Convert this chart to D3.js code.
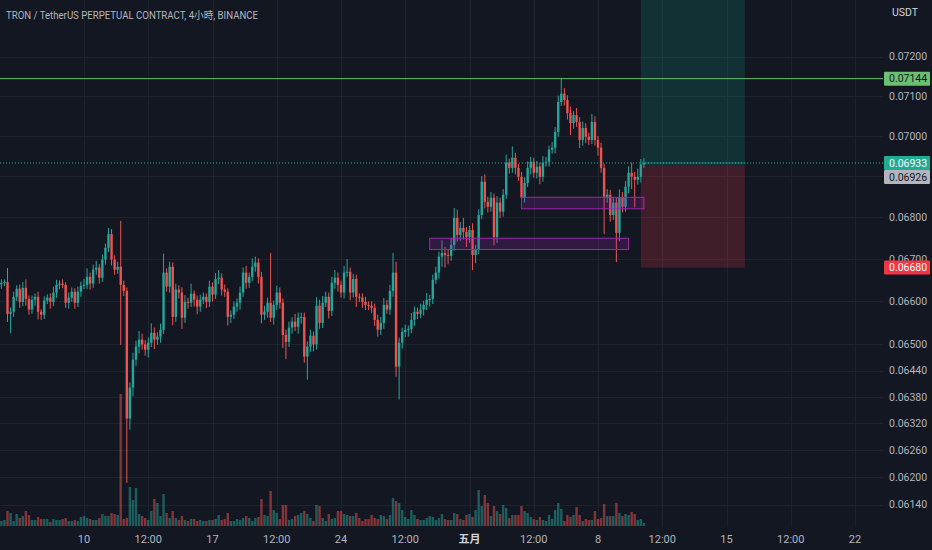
<!DOCTYPE html>
<html>
<head>
<meta charset="utf-8">
<script src="https://cdn.jsdelivr.net/npm/d3@7"></script>
<style>
html, body { margin: 0; padding: 0; background: #131722; overflow: hidden; }
svg { display: block; }
text { font-family: Roboto, "Noto Sans CJK SC", sans-serif; }
</style>
</head>
<body>
<svg width="932" height="550"></svg>
<script>
// 4h bars, first bar Apr 5 12:00 UTC; prices in units of 0.00001 USDT
const firstBar = Date.UTC(2023, 3, 5, 12);
const barMs = 4 * 3600 * 1000;
const firstOpenE5 = 6640;

const closeE5 = [
  6644, 6646, 6571, 6576, 6611, 6630, 6599, 6632, 6606, 6581,
  6604, 6611, 6576, 6569, 6602, 6609, 6599, 6621, 6639, 6642,
  6639, 6597, 6609, 6623, 6597, 6623, 6637, 6639, 6658, 6642,
  6675, 6680, 6656, 6699, 6727, 6760, 6699, 6675, 6682, 6639,
  6625, 6331, 6401, 6465, 6495, 6511, 6500, 6488, 6504, 6527,
  6511, 6518, 6534, 6668, 6635, 6682, 6564, 6628, 6621, 6562,
  6599, 6597, 6618, 6604, 6588, 6604, 6611, 6599, 6635, 6616,
  6653, 6656, 6628, 6623, 6564, 6569, 6588, 6597, 6621, 6668,
  6644, 6658, 6682, 6692, 6658, 6569, 6576, 6597, 6562, 6592,
  6621, 6597, 6522, 6506, 6539, 6553, 6541, 6562, 6564, 6472,
  6495, 6520, 6500, 6590, 6550, 6597, 6611, 6578, 6644, 6656,
  6639, 6621, 6668, 6670, 6621, 6653, 6611, 6609, 6599, 6592,
  6590, 6585, 6557, 6534, 6550, 6592, 6581, 6625, 6668, 6449,
  6504, 6529, 6534, 6536, 6557, 6576, 6571, 6581, 6592, 6604,
  6606, 6651, 6668, 6706, 6715, 6710, 6708, 6734, 6799, 6758,
  6775, 6765, 6753, 6770, 6710, 6724, 6806, 6887, 6838, 6826,
  6848, 6753, 6836, 6814, 6855, 6934, 6921, 6946, 6921, 6899,
  6848, 6884, 6921, 6936, 6909, 6924, 6899, 6934, 6936, 6966,
  6971, 7010, 7085, 7106, 7090, 7057, 7032, 7052, 7035, 6990,
  7020, 6998, 6990, 7035, 6990, 6971, 6921, 6850, 6855, 6806,
  6836, 6763, 6850, 6826, 6875, 6909, 6899, 6892, 6899, 6929,
  6933
];

const wickUpE5 = [
  8, 6, 33, 10, 12, 8, 10, 14, 20, 8,
  10, 8, 12, 6, 10, 8, 10, 14, 12, 8,
  10, 6, 12, 10, 8, 12, 10, 14, 20, 10,
  12, 16, 8, 12, 10, 15, 12, 10, 12, 110,
  10, 8, 12, 16, 14, 20, 14, 10, 12, 22,
  12, 10, 14, 45, 10, 12, 10, 14, 10, 12,
  16, 10, 24, 8, 10, 12, 10, 8, 14, 10,
  14, 18, 10, 12, 8, 10, 12, 10, 14, 12,
  16, 10, 20, 14, 10, 12, 14, 12, 118, 10,
  16, 12, 10, 12, 14, 10, 18, 12, 10, 10,
  12, 14, 10, 20, 14, 16, 12, 10, 14, 18,
  12, 10, 16, 30, 10, 12, 10, 8, 10, 12,
  8, 10, 10, 12, 14, 16, 12, 14, 47, 26,
  12, 10, 12, 8, 16, 12, 10, 14, 10, 16,
  10, 12, 14, 12, 30, 14, 12, 16, 24, 20,
  14, 24, 12, 10, 16, 10, 14, 14, 18, 12,
  14, 10, 16, 12, 14, 20, 10, 28, 12, 10,
  12, 14, 16, 12, 10, 14, 10, 16, 12, 10,
  14, 12, 16, 38, 14, 12, 16, 10, 18, 12,
  16, 12, 10, 20, 14, 10, 12, 10, 14, 12,
  14, 12, 18, 12, 14, 16, 25, 12, 20, 14,
  12
];

const wickDnE5 = [
  10, 8, 19, 45, 12, 10, 14, 10, 16, 12,
  10, 14, 18, 12, 10, 8, 16, 10, 12, 10,
  8, 12, 14, 10, 14, 10, 12, 8, 10, 14,
  10, 12, 14, 10, 12, 10, 14, 12, 10, 140,
  12, 143, 25, 20, 14, 16, 12, 14, 18, 10,
  22, 12, 14, 10, 12, 14, 20, 12, 14, 26,
  12, 14, 10, 16, 18, 12, 10, 14, 12, 16,
  10, 12, 14, 12, 20, 14, 10, 12, 16, 10,
  14, 12, 10, 12, 16, 20, 12, 14, 10, 16,
  12, 14, 30, 40, 12, 14, 10, 16, 14, 14,
  53, 12, 16, 12, 14, 12, 10, 18, 12, 14,
  16, 12, 14, 10, 18, 12, 24, 10, 14, 12,
  10, 12, 14, 16, 12, 14, 10, 12, 14, 23,
  75, 14, 12, 16, 10, 14, 12, 10, 14, 12,
  16, 12, 10, 14, 24, 30, 20, 12, 14, 16,
  14, 18, 24, 14, 36, 20, 12, 10, 16, 14,
  12, 20, 14, 16, 12, 10, 14, 12, 16, 10,
  14, 12, 10, 16, 12, 14, 18, 12, 10, 12,
  10, 14, 12, 10, 14, 16, 30, 14, 12, 20,
  14, 16, 12, 10, 14, 20, 12, 90, 14, 16,
  12, 70, 20, 14, 12, 16, 30, 68, 12, 14,
  8
];

const volumeM = [
  5, 6, 15, 13, 5, 12, 8, 10, 15, 11,
  6, 6, 9, 7, 7, 7, 4, 7, 6, 6,
  7, 8, 5, 5, 6, 5, 9, 10, 8, 7,
  6, 6, 8, 12, 10, 10, 13, 12, 11, 132,
  7, 8, 39, 26, 38, 12, 10, 8, 6, 15,
  27, 23, 10, 32, 13, 8, 15, 8, 6, 10,
  6, 5, 7, 7, 5, 6, 5, 5, 6, 6,
  7, 11, 6, 7, 13, 5, 5, 7, 6, 8,
  10, 8, 5, 8, 9, 27, 11, 10, 35, 16,
  13, 7, 21, 21, 6, 7, 10, 11, 13, 15,
  12, 8, 5, 21, 20, 8, 5, 12, 7, 8,
  15, 15, 12, 11, 10, 10, 13, 8, 5, 7,
  7, 11, 8, 7, 11, 10, 7, 11, 28, 25,
  23, 16, 9, 7, 16, 11, 7, 6, 6, 8,
  10, 9, 6, 8, 12, 7, 6, 6, 13, 12,
  7, 6, 11, 12, 9, 16, 36, 20, 31, 23,
  10, 20, 15, 12, 21, 18, 8, 11, 11, 11,
  20, 15, 13, 9, 7, 6, 9, 6, 5, 11,
  7, 16, 23, 17, 5, 11, 9, 11, 19, 11,
  5, 7, 6, 6, 15, 7, 8, 22, 10, 10,
  10, 23, 13, 10, 12, 11, 14, 12, 6, 7,
  3
];

const priceTicks = [0.072, 0.071, 0.070, 0.069, 0.068, 0.067, 0.066, 0.065,
  0.0644, 0.0638, 0.0632, 0.0626, 0.0620, 0.0614];

const timeTicks = [
  Date.UTC(2023, 3, 10), Date.UTC(2023, 3, 13, 12), Date.UTC(2023, 3, 17),
  Date.UTC(2023, 3, 20, 12), Date.UTC(2023, 3, 24), Date.UTC(2023, 3, 27, 12),
  Date.UTC(2023, 4, 1), Date.UTC(2023, 4, 4, 12), Date.UTC(2023, 4, 8),
  Date.UTC(2023, 4, 11, 12), Date.UTC(2023, 4, 15), Date.UTC(2023, 4, 18, 12),
  Date.UTC(2023, 4, 22)
];
const timeTickLabels = ["10", "12:00", "17", "12:00", "24", "12:00", "五月",
  "12:00", "8", "12:00", "15", "12:00", "22"];

// rectangles drawn on the chart
const zones = [
  { from: Date.UTC(2023, 3, 28, 20), to: Date.UTC(2023, 4, 9, 16), top: 0.06750, bottom: 0.06723 },
  { from: Date.UTC(2023, 4, 3, 20), to: Date.UTC(2023, 4, 10, 12), top: 0.06849, bottom: 0.06821 }
];

// long position tool
const position = { from: Date.UTC(2023, 4, 10, 8), to: Date.UTC(2023, 4, 16), entry: 0.06926, stop: 0.06680, target: 0.0745 };
const levelLine = 0.07144;
const lastPrice = 0.06933;

const priceLabels = [
  { v: 0.07144, bg: "#6cbf72", fg: "#131722" },
  { v: 0.06933, bg: "#22ab94", fg: "#ffffff" },
  { v: 0.06926, bg: "#b2b5be", fg: "#131722" },
  { v: 0.06680, bg: "#f23645", fg: "#ffffff" }
];

const plotRight = 883;
const volBase = 526;
const up = "#26a69a", down = "#ef5350";
const grid = "#1e222d";
const axisText = "#b2b5be";

const svg = d3.select("svg");

const x = d3.scaleUtc()
  .domain([Date.UTC(2023, 3, 10), Date.UTC(2023, 4, 22)])
  .range([84, 855]);

const y = d3.scaleLog()
  .domain([0.072, 0.0614])
  .range([56.7, 504.7]);

const yVol = d3.scaleLinear()
  .domain([0, 130])
  .range([volBase, volBase - 130]);

const bars = closeE5.map((c, i) => {
  const o = i === 0 ? firstOpenE5 : closeE5[i - 1];
  return {
    t: firstBar + i * barMs,
    o: o / 1e5,
    c: c / 1e5,
    h: (Math.max(o, c) + wickUpE5[i]) / 1e5,
    l: (Math.min(o, c) - wickDnE5[i]) / 1e5,
    v: volumeM[i]
  };
});

svg.append("rect")
  .attr("width", 932).attr("height", 550)
  .attr("fill", "#131722");

svg.append("clipPath").attr("id", "plot")
  .append("rect")
  .attr("x", 0).attr("y", 0)
  .attr("width", plotRight).attr("height", volBase + 1);

// grid
const gridG = svg.append("g").attr("clip-path", "url(#plot)");
gridG.selectAll(".hgrid")
  .data(priceTicks)
  .enter()
  .append("line")
  .attr("x1", 0).attr("x2", plotRight)
  .attr("y1", d => Math.round(y(d)) + 0.5)
  .attr("y2", d => Math.round(y(d)) + 0.5)
  .attr("stroke", grid);

gridG.selectAll(".vgrid")
  .data(timeTicks)
  .enter()
  .append("line")
  .attr("y1", 0).attr("y2", volBase + 1)
  .attr("x1", d => Math.round(x(d)) + 0.5)
  .attr("x2", d => Math.round(x(d)) + 0.5)
  .attr("stroke", grid);

const plot = svg.append("g").attr("clip-path", "url(#plot)");

// volume
plot.selectAll(".vol")
  .data(bars)
  .enter()
  .append("rect")
  .attr("x", d => x(d.t) - 1.2)
  .attr("width", 2.4)
  .attr("y", d => yVol(d.v))
  .attr("height", d => volBase - yVol(d.v))
  .attr("fill", d => d.c >= d.o ? up : down)
  .attr("opacity", 0.5);

// candles
const candle = plot.selectAll(".candle")
  .data(bars)
  .enter()
  .append("g");

candle.append("rect")
  .attr("x", d => x(d.t) - 0.5)
  .attr("width", 1)
  .attr("y", d => y(d.h))
  .attr("height", d => y(d.l) - y(d.h))
  .attr("fill", d => d.c >= d.o ? up : down);

candle.append("rect")
  .attr("x", d => x(d.t) - 1.2)
  .attr("width", 2.4)
  .attr("y", d => y(Math.max(d.o, d.c)))
  .attr("height", d => Math.max(1, Math.abs(y(d.o) - y(d.c))))
  .attr("fill", d => d.c >= d.o ? up : down);

// zones
plot.selectAll(".zone")
  .data(zones)
  .enter()
  .append("rect")
  .attr("x", d => x(d.from))
  .attr("width", d => x(d.to) - x(d.from))
  .attr("y", d => y(d.top))
  .attr("height", d => y(d.bottom) - y(d.top))
  .attr("fill", "rgba(156,39,176,0.22)")
  .attr("stroke", "#9c27b0")
  .attr("stroke-width", 1);

// position tool
const px0 = x(position.from), px1 = x(position.to);
plot.append("rect")
  .attr("x", px0).attr("width", px1 - px0)
  .attr("y", y(position.target))
  .attr("height", y(position.entry) - y(position.target))
  .attr("fill", "rgba(8,153,129,0.2)");
plot.append("rect")
  .attr("x", px0).attr("width", px1 - px0)
  .attr("y", y(position.entry))
  .attr("height", y(position.stop) - y(position.entry))
  .attr("fill", "rgba(242,54,69,0.2)");

// horizontal level + last price line
plot.append("line")
  .attr("x1", 0).attr("x2", plotRight)
  .attr("y1", y(levelLine)).attr("y2", y(levelLine))
  .attr("stroke", "#6cbf72").attr("stroke-width", 1);

plot.append("line")
  .attr("x1", 0).attr("x2", plotRight)
  .attr("y1", y(lastPrice)).attr("y2", y(lastPrice))
  .attr("stroke", "#22ab94").attr("stroke-width", 1)
  .attr("stroke-dasharray", "1,2");

plot.append("line")
  .attr("x1", x(bars[bars.length - 1].t)).attr("x2", px1)
  .attr("y1", y(lastPrice)).attr("y2", y(lastPrice))
  .attr("stroke", "#22ab94").attr("stroke-width", 1)
  .attr("opacity", 0.6);

// price axis
const fmt = d3.format(".5f");
svg.selectAll(".ptick")
  .data(priceTicks)
  .enter()
  .append("text")
  .attr("x", 889)
  .attr("y", d => y(d))
  .attr("dy", "0.35em")
  .attr("font-size", "10.5px")
  .attr("fill", axisText)
  .text(d => fmt(d));

svg.append("text")
  .attr("x", 892).attr("y", 16)
  .attr("font-size", "10.5px")
  .attr("fill", "#d1d4dc")
  .text("USDT");

// price labels, pushed down when they overlap
let prevBottom = -Infinity;
priceLabels.forEach(p => {
  let cy = y(p.v);
  if (cy - 7 < prevBottom) cy = prevBottom + 7;
  prevBottom = cy + 7;
  svg.append("rect")
    .attr("x", 884).attr("y", cy - 7)
    .attr("width", 46).attr("height", 14)
    .attr("rx", 1)
    .attr("fill", p.bg);
  svg.append("text")
    .attr("x", 889).attr("y", cy)
    .attr("dy", "0.35em")
    .attr("font-size", "10.5px")
    .attr("fill", p.fg)
    .text(fmt(p.v));
});

// time axis
svg.selectAll(".ttick")
  .data(timeTicks)
  .enter()
  .append("text")
  .attr("x", d => x(d))
  .attr("y", 543)
  .attr("text-anchor", "middle")
  .attr("font-size", "11px")
  .attr("font-weight", (d, i) => timeTickLabels[i] === "五月" ? "bold" : "normal")
  .attr("fill", (d, i) => timeTickLabels[i] === "五月" ? "#d1d4dc" : axisText)
  .text((d, i) => timeTickLabels[i]);

// title
svg.append("text")
  .attr("x", 6).attr("y", 19)
  .attr("font-family", "'DejaVu Sans Mono', 'Noto Sans CJK SC', monospace")
  .attr("font-size", "10.5px")
  .attr("textLength", 252)
  .attr("lengthAdjust", "spacingAndGlyphs")
  .attr("fill", axisText)
  .text("TRON / TetherUS PERPETUAL CONTRACT, 4小時, BINANCE");
</script>
</body>
</html>
